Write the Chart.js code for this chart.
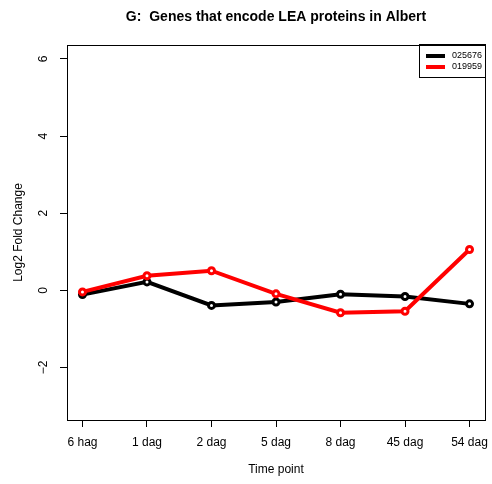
<!DOCTYPE html>
<html>
<head>
<meta charset="utf-8">
<script src="https://cdn.jsdelivr.net/npm/chart.js@4/dist/chart.umd.min.js"></script>
<style>
  body { margin: 0; background: #fff; }
</style>
</head>
<body>
<canvas id="chart" width="492" height="484"></canvas>
<script>
// values
const timePoints = ["6 hag", "1 dag", "2 dag", "5 dag", "8 dag", "45 dag", "54 dag"];
const gene025676 = [-0.11, 0.22, -0.39, -0.30, -0.10, -0.16, -0.35];
const gene019959 = [-0.04, 0.38, 0.51, -0.09, -0.58, -0.54, 1.06];
const seriesNames = ["025676", "019959"];
const seriesColors = ["#000000", "#ff0000"];
const yTicks = [-2, 0, 2, 4, 6];
const titleText = "G:  Genes that encode LEA proteins in Albert";

const FONT = '"Liberation Sans", Arial, sans-serif';

function toPoints(vals) {
    return vals.map((v, i) => ({ x: i, y: v }));
}

function makeSet(vals, k) {
    return {
        label: seriesNames[k],
        data: toPoints(vals),
        borderColor: seriesColors[k],
        borderWidth: 4,
        pointRadius: 3,
        pointBorderWidth: 3,
        pointBackgroundColor: '#ffffff',
        pointBorderColor: seriesColors[k],
        order: 1 - k
    };
}

// box, title, rotated y labels and legend, R style
const rBits = {
    id: 'rBits',
    afterDraw(c) {
        const ctx = c.ctx;
        const a = c.chartArea;
        ctx.save();
        ctx.strokeStyle = '#000';
        ctx.lineWidth = 1;
        ctx.strokeRect(Math.round(a.left) + 0.5, Math.round(a.top) + 0.5,
            Math.round(a.right - a.left), Math.round(a.bottom - a.top));

        ctx.fillStyle = '#000';
        ctx.font = 'bold 14px ' + FONT;
        ctx.textAlign = 'center';
        ctx.textBaseline = 'alphabetic';
        ctx.fillText(titleText, (a.left + a.right) / 2, 21);

        const ys = c.scales.y;
        ctx.font = '12px ' + FONT;
        yTicks.forEach(v => {
            ctx.save();
            ctx.translate(47, ys.getPixelForValue(v));
            ctx.rotate(-Math.PI / 2);
            ctx.fillText(String(v).replace('-', '\u2212'), 0, 0);
            ctx.restore();
        });

        // legend top right
        const lw = 66, lh = 33;
        const lx = Math.round(a.right) - lw, ly = Math.round(a.top) - 1;
        ctx.strokeRect(lx + 0.5, ly + 0.5, lw, lh);
        ctx.font = '9px ' + FONT;
        ctx.textAlign = 'left';
        ctx.textBaseline = 'middle';
        seriesNames.forEach((name, k) => {
            const y = ly + 12 + k * 11;
            ctx.strokeStyle = seriesColors[k];
            ctx.lineWidth = 4;
            ctx.beginPath();
            ctx.moveTo(lx + 7, y);
            ctx.lineTo(lx + 26, y);
            ctx.stroke();
            ctx.fillStyle = '#000';
            ctx.fillText(name, lx + 33, y);
        });
        ctx.restore();
    }
};

new Chart(document.getElementById('chart'), {
    type: 'line',
    data: {
        datasets: [makeSet(gene025676, 0), makeSet(gene019959, 1)]
    },
    options: {
        responsive: false,
        animation: false,
        devicePixelRatio: 1,
        layout: { padding: { top: 45, right: 5, left: 0, bottom: 0 } },
        plugins: { legend: { display: false }, tooltip: { enabled: false } },
        scales: {
            x: {
                type: 'linear',
                min: -0.24,
                max: 6.24,
                afterBuildTicks: s => { s.ticks = timePoints.map((t, i) => ({ value: i })); },
                afterFit: s => { s.height = 64; s.paddingLeft = 0; s.paddingRight = 0; },
                grid: { drawOnChartArea: false, tickLength: 7, color: '#000' },
                border: { display: false },
                ticks: {
                    autoSkip: false,
                    maxRotation: 0,
                    padding: 8,
                    color: '#000',
                    font: { family: FONT, size: 12 },
                    callback: v => timePoints[v]
                },
                title: {
                    display: true,
                    text: 'Time point',
                    color: '#000',
                    font: { family: FONT, size: 12 },
                    padding: { top: 0, bottom: 7 }
                }
            },
            y: {
                min: -3.36,
                max: 6.36,
                afterBuildTicks: s => { s.ticks = yTicks.map(v => ({ value: v })); },
                afterFit: s => { s.width = 67; },
                grid: { drawOnChartArea: false, tickLength: 7, color: '#000' },
                border: { display: false },
                ticks: { display: false },
                title: {
                    display: true,
                    text: 'Log2 Fold Change',
                    color: '#000',
                    font: { family: FONT, size: 12 },
                    padding: { top: 11, bottom: 0 }
                }
            }
        }
    },
    plugins: [rBits]
});
</script>
</body>
</html>
